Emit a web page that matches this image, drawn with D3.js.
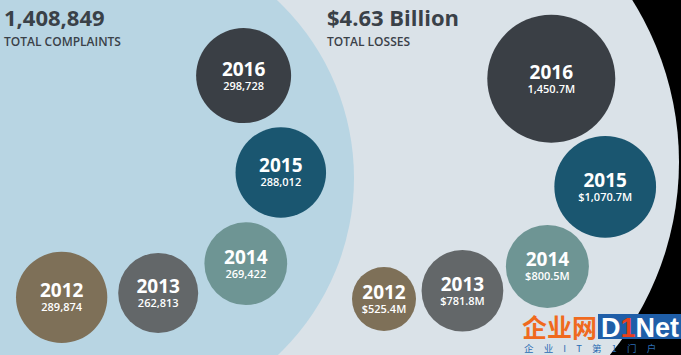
<!DOCTYPE html>
<html>
<head>
<meta charset="utf-8">
<script src="https://cdn.jsdelivr.net/npm/d3@7/dist/d3.min.js"></script>
<style>
  html, body { margin: 0; padding: 0; background: #000; }
  svg { display: block; }
</style>
</head>
<body>
<div id="chart"></div>
<script>
(function IIFE() {
    'use strict';
    var w = 681;
    var h = 355;

    // data, oldest year first
    var years = ["2012", "2013", "2014", "2015", "2016"];
    var complaints = [289874, 262813, 269422, 288012, 298728];
    var losses = [525.4, 781.8, 800.5, 1070.7, 1450.7];
    var lossLabels = ["$525.4M", "$781.8M", "$800.5M", "$1,070.7M", "1,450.7M"];
    var yearColors = ["#7e7058", "#636769", "#6e9594", "#1a5670", "#3a3f45"];

    var fmt = d3.format(",");

    var svg = d3.select("#chart")
        .append("svg")
        .attr("width", w)
        .attr("height", h);

    // backgrounds: black, grey right disc, blue left disc
    svg.append("rect").attr("width", w).attr("height", h).attr("fill", "#000");
    svg.append("circle").attr("cx", 375).attr("cy", 162).attr("r", 304).attr("fill", "#dae2e8");
    svg.append("circle").attr("cx", 110).attr("cy", 178).attr("r", 244).attr("fill", "#b8d5e3");

    // bubbles are chained: each one sits next to the previous one,
    // turning by the given angle (degrees) at each step
    function chain(values, rScale, left, bottom, gap, turns) {
        var pts = [];
        values.forEach(function (v, i) {
            var r = rScale(v);
            if (i === 0) {
                pts.push({x: left + r, y: bottom - r, r: r});
            } else {
                var p = pts[i - 1];
                var a = turns[i - 1] * Math.PI / 180;
                var d = p.r + r + gap;
                pts.push({x: p.x + d * Math.cos(a), y: p.y + d * Math.sin(a), r: r});
            }
        });
        return pts;
    }

    var rLeft = d3.scaleLinear().domain(d3.extent(complaints)).range([40, 47.5]);
    var rRight = d3.scaleLinear().domain(d3.extent(losses)).range([32, 64]);

    var panels = [
        {
            total: fmt(d3.sum(complaints)),
            caption: "TOTAL COMPLAINTS",
            tx: 4,
            pts: chain(complaints, rLeft, 16, 343, 11, [-2.6, -18.5, -69, -111]),
            labels: complaints.map(fmt)
        },
        {
            total: "$" + (d3.sum(losses) / 1000).toFixed(2) + " Billion",
            caption: "TOTAL LOSSES",
            tx: 327,
            pts: chain(losses, rRight, 352, 331, 6, [-6, -16, -54, -116.5]),
            labels: lossLabels
        }
    ];

    panels.forEach(function (p) {
        svg.append("text")
            .text(p.total)
            .attr("x", p.tx)
            .attr("y", 26)
            .attr("font-family", "'Open Sans', sans-serif")
            .attr("font-weight", 700)
            .attr("font-size", "22px")
            .attr("fill", "#3a4148");

        svg.append("text")
            .text(p.caption)
            .attr("x", p.tx)
            .attr("y", 45.5)
            .attr("font-family", "'Open Sans', sans-serif")
            .attr("font-weight", 600)
            .attr("font-size", "12px")
            .attr("fill", "#3a4148");

        var g = svg.append("g");
        var bubble = g.selectAll("g")
            .data(p.pts)
            .enter()
            .append("g")
            .attr("transform", function (d) { return "translate(" + d.x + "," + d.y + ")"; });

        bubble.append("circle")
            .attr("r", function (d) { return d.r; })
            .attr("fill", function (d, i) { return yearColors[i]; });

        // year and value as two lines of one label
        var label = bubble.append("text")
            .attr("text-anchor", "middle")
            .attr("font-family", "'Open Sans', sans-serif")
            .attr("fill", "#fff");

        label.append("tspan")
            .text(function (d, i) { return years[i]; })
            .attr("x", 0)
            .attr("y", 0)
            .attr("font-weight", 700)
            .attr("font-size", "19px");

        label.append("tspan")
            .text(function (d, i) { return p.labels[i]; })
            .attr("x", 0)
            .attr("y", 14)
            .attr("font-weight", 600)
            .attr("font-size", "11px");
    });

    // site watermark, bottom right
    var wm = svg.append("g");
    wm.append("text")
        .text("企业网")
        .attr("x", 522)
        .attr("y", 337)
        .attr("font-family", "'Noto Sans CJK SC', sans-serif")
        .attr("font-weight", 700)
        .attr("font-size", "25px")
        .attr("fill", "#f06a1e");
    wm.append("rect")
        .attr("x", 598).attr("y", 314).attr("width", 83).attr("height", 25)
        .attr("fill", "#1f5ea8");
    var net = wm.append("text")
        .attr("x", 601)
        .attr("y", 337)
        .attr("font-family", "'Liberation Sans', sans-serif")
        .attr("font-weight", 700)
        .attr("font-size", "27px")
        .attr("fill", "#fff");
    net.append("tspan").text("D");
    net.append("tspan").text("1").attr("fill", "#e8401c");
    net.append("tspan").text("Net");
    wm.append("text")
        .text("企 业 I T 第 1 门 户")
        .attr("x", 524)
        .attr("y", 352)
        .attr("font-family", "'Noto Sans CJK SC', sans-serif")
        .attr("font-size", "9.5px")
        .attr("letter-spacing", "4px")
        .attr("fill", "#2b6cb3");
}());
</script>
</body>
</html>
